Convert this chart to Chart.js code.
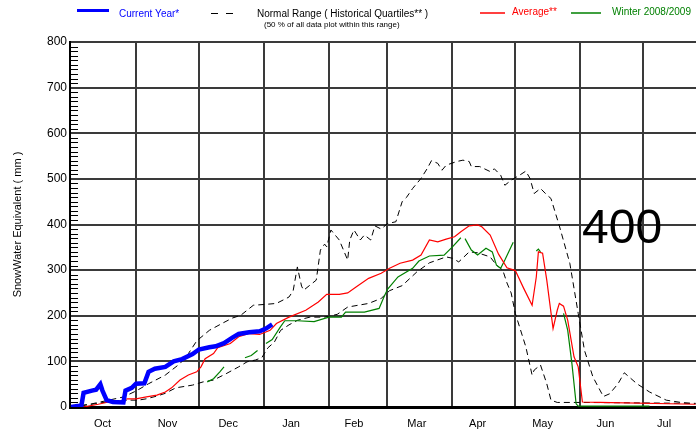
<!DOCTYPE html>
<html>
<head>
<meta charset="utf-8">
<script src="https://cdn.jsdelivr.net/npm/chart.js@4/dist/chart.umd.min.js"></script>
<style>
  body { margin: 0; background: #fff; }
  canvas { display: block; }
</style>
</head>
<body>
<canvas id="chart" width="696" height="435"></canvas>
<script>
// x values are days counted from Oct 1
const monthNames = ['Oct', 'Nov', 'Dec', 'Jan', 'Feb', 'Mar', 'Apr', 'May', 'Jun', 'Jul'];
const monthLabelDays = [15, 46, 75, 105, 135, 165, 194, 225, 255, 283];
const monthStartDays = [31, 61, 92, 123, 151, 182, 212, 243, 273];

const currentDays = [0, 4, 5, 6, 10, 12, 14, 15, 17, 20, 25, 26, 29, 31, 35, 37, 40, 45, 49, 53, 58, 61, 66, 69, 73, 77, 80, 85, 90, 93, 96];
const currentSwe = [0, 3, 4, 31, 36, 38, 50, 36, 15, 11, 10, 36, 42, 51, 52, 77, 84, 88, 100, 105, 116, 126, 131, 133, 140, 152, 160, 164, 166, 172, 181];

const avgDays = [0, 7, 13, 18, 22, 27, 31, 36, 41, 45, 48, 52, 56, 60, 62, 64, 68, 70, 76, 80, 85, 90, 95, 98, 104, 112, 118, 122, 128, 132, 136, 142, 148, 152, 157, 163, 167, 171, 175, 179, 183, 186, 190, 194, 196, 200, 204, 208, 212, 216, 220, 222, 223, 225, 227, 230, 232, 233, 235, 237, 240, 242, 244, 252, 298];
const avgSwe = [0, 1, 6, 11, 11, 18, 18, 22, 26, 33, 42, 59, 70, 77, 88, 106, 117, 130, 139, 154, 161, 159, 168, 183, 197, 212, 230, 247, 247, 250, 263, 282, 293, 304, 315, 322, 333, 366, 362, 368, 373, 384, 397, 399, 395, 377, 335, 305, 299, 260, 223, 285, 340, 337, 278, 172, 212, 227, 221, 190, 110, 88, 11, 10, 6];

const winterDays = [65, 68, 71, 73, 74, 83, 86, 89, 90, 93, 96, 100, 102, 108, 116, 123, 129, 131, 140, 147, 149, 151, 156, 163, 166, 171, 178, 182, 186, 187, 188, 191, 194, 198, 201, 203, 205, 207, 211, 212, 222, 223, 224, 225, 235, 237, 239, 241, 242, 276];
const winterSwe = [55, 62, 77, 88, null, 108, 113, 124, null, 139, 148, 176, 189, 189, 187, 197, 197, 208, 208, 216, 238, 258, 285, 304, 320, 331, 333, 351, 371, null, 369, 344, 333, 348, 340, 311, 304, 322, 361, null, 342, 346, 340, null, 205, 168, 95, 7, 2, 2];

const upperDays = [0, 10, 18, 25, 31, 37, 45, 52, 56, 60, 66, 72, 77, 81, 84, 87, 93, 98, 104, 106, 108, 110, 111, 117, 119, 121, 122, 124, 128, 132, 133, 135, 138, 140, 143, 145, 148, 151, 155, 158, 160, 163, 167, 170, 172, 175, 177, 179, 184, 187, 190, 191, 195, 200, 202, 205, 207, 210, 214, 217, 219, 221, 224, 227, 229, 233, 238, 242, 245, 249, 254, 257, 261, 264, 270, 276, 284, 291, 298];
const upperSwe = [0, 7, 15, 22, 35, 51, 70, 95, 117, 145, 168, 183, 195, 201, 212, 223, 225, 227, 241, 255, 307, 265, 256, 278, 344, 357, 351, 388, 366, 322, 366, 388, 366, 377, 366, 397, 390, 402, 406, 450, 459, 479, 501, 523, 540, 534, 519, 530, 538, 541, 538, 527, 527, 516, 522, 508, 486, 497, 508, 517, 501, 468, 479, 465, 457, 397, 315, 205, 124, 66, 23, 29, 51, 75, 51, 33, 15, 10, 7];

const lowerDays = [0, 7, 17, 28, 32, 36, 41, 45, 50, 58, 63, 68, 74, 80, 84, 88, 91, 94, 97, 100, 104, 108, 114, 121, 127, 132, 142, 148, 152, 158, 165, 171, 179, 182, 185, 190, 194, 200, 203, 206, 208, 210, 212, 217, 220, 221, 224, 227, 229, 232, 243, 298];
const lowerSwe = [0, 4, 11, 15, 15, 18, 24, 30, 42, 48, 55, 59, 73, 88, 99, 103, 108, 130, 142, 168, 180, 190, 197, 197, 203, 219, 227, 238, 255, 266, 296, 316, 329, 326, 318, 340, 338, 329, 311, 300, 272, 250, 205, 132, 70, 81, 92, 51, 15, 10, 10, 8];

const noteText = '400';

const pts = (days, vals) => days.map((d, i) => ({ x: d, y: vals[i] }));

const FONT = '"Liberation Sans", Arial, sans-serif';
Chart.defaults.font.family = FONT;
Chart.defaults.font.size = 11;
Chart.defaults.color = '#000';

// short ruler ticks on the inside of the y axis, every 10 mm
const minorTicks = {
  id: 'minorTicks',
  beforeDatasetsDraw(chart) {
    const { ctx, chartArea, scales: { y } } = chart;
    ctx.save();
    ctx.strokeStyle = '#000';
    ctx.lineWidth = 1;
    ctx.beginPath();
    for (let v = 10; v < 800; v += 10) {
      if (v % 100 === 0) continue;
      const py = Math.round(y.getPixelForValue(v)) + 0.5;
      ctx.moveTo(chartArea.left, py);
      ctx.lineTo(chartArea.left + 8, py);
    }
    ctx.stroke();
    ctx.restore();
  }
};

// legend row at the top and the big note
const legendRow = {
  id: 'legendRow',
  afterDraw(chart) {
    const ctx = chart.ctx;
    ctx.save();
    ctx.textBaseline = 'middle';
    ctx.textAlign = 'left';

    ctx.strokeStyle = '#0000ff';
    ctx.lineWidth = 3;
    ctx.beginPath(); ctx.moveTo(77, 10.5); ctx.lineTo(109, 10.5); ctx.stroke();
    ctx.fillStyle = '#0000ff';
    ctx.font = '10px ' + FONT;
    ctx.fillText('Current Year*', 119, 14);

    ctx.strokeStyle = '#000';
    ctx.lineWidth = 1;
    ctx.setLineDash([7, 8]);
    ctx.beginPath(); ctx.moveTo(211, 13.5); ctx.lineTo(234, 13.5); ctx.stroke();
    ctx.setLineDash([]);
    ctx.fillStyle = '#000';
    ctx.fillText('Normal Range ( Historical Quartiles** )', 257, 14);
    ctx.font = '8px ' + FONT;
    ctx.fillText('(50 % of all data plot within this range)', 264, 25);

    ctx.font = '10px ' + FONT;
    ctx.strokeStyle = '#ff0000';
    ctx.lineWidth = 1.5;
    ctx.beginPath(); ctx.moveTo(480, 13); ctx.lineTo(505, 13); ctx.stroke();
    ctx.fillStyle = '#ff0000';
    ctx.fillText('Average**', 512, 12);

    ctx.strokeStyle = '#008000';
    ctx.beginPath(); ctx.moveTo(571, 13); ctx.lineTo(601, 13); ctx.stroke();
    ctx.fillStyle = '#008000';
    ctx.fillText('Winter 2008/2009', 612, 12);

    ctx.fillStyle = '#000';
    ctx.font = '48px ' + FONT;
    ctx.textBaseline = 'alphabetic';
    ctx.fillText(noteText, 582, 243);
    ctx.restore();
  }
};

new Chart(document.getElementById('chart'), {
  type: 'line',
  data: {
    datasets: [
      { label: 'Current Year*', data: pts(currentDays, currentSwe), borderColor: '#0000ff', borderWidth: 4.5 },
      { label: 'Average**', data: pts(avgDays, avgSwe), borderColor: '#ff0000', borderWidth: 1.2 },
      { label: 'Winter 2008/2009', data: pts(winterDays, winterSwe), borderColor: '#008000', borderWidth: 1.2, spanGaps: false },
      { label: 'Upper quartile', data: pts(upperDays, upperSwe), borderColor: '#000', borderWidth: 1, borderDash: [6, 4] },
      { label: 'Lower quartile', data: pts(lowerDays, lowerSwe), borderColor: '#000', borderWidth: 1, borderDash: [6, 4] }
    ]
  },
  options: {
    responsive: false,
    animation: false,
    devicePixelRatio: 1,
    layout: { padding: { top: 42, right: 0, bottom: 0, left: 0 } },
    elements: { point: { radius: 0 }, line: { tension: 0, fill: false } },
    plugins: { legend: { display: false }, tooltip: { enabled: false } },
    scales: {
      x: {
        type: 'linear',
        min: -0.48,
        max: 298.2,
        afterBuildTicks: (scale) => {
          scale.ticks = monthStartDays.concat(monthLabelDays).sort((a, b) => a - b).map(v => ({ value: v }));
        },
        afterFit: (scale) => { scale.height = 28; },
        ticks: {
          autoSkip: false,
          maxRotation: 0,
          padding: 10,
          callback: (v) => {
            const i = monthLabelDays.indexOf(v);
            return i >= 0 ? monthNames[i] : '';
          }
        },
        grid: {
          drawTicks: false,
          lineWidth: 2,
          color: (c) => (c.tick && monthStartDays.includes(c.tick.value)) ? '#3a3a3a' : 'rgba(0,0,0,0)'
        },
        border: { color: '#000', width: 3 }
      },
      y: {
        min: 0,
        max: 800,
        afterFit: (scale) => { scale.width = 70; },
        ticks: { stepSize: 100, padding: 3, font: { size: 12 } },
        grid: { drawTicks: false, lineWidth: 2, color: '#3a3a3a' },
        border: { color: '#000', width: 2 },
        title: {
          display: true,
          text: 'SnowWater Equivalent ( mm )',
          font: { size: 11 },
          padding: { top: 11, bottom: 0 }
        }
      }
    }
  },
  plugins: [minorTicks, legendRow]
});
</script>
</body>
</html>
